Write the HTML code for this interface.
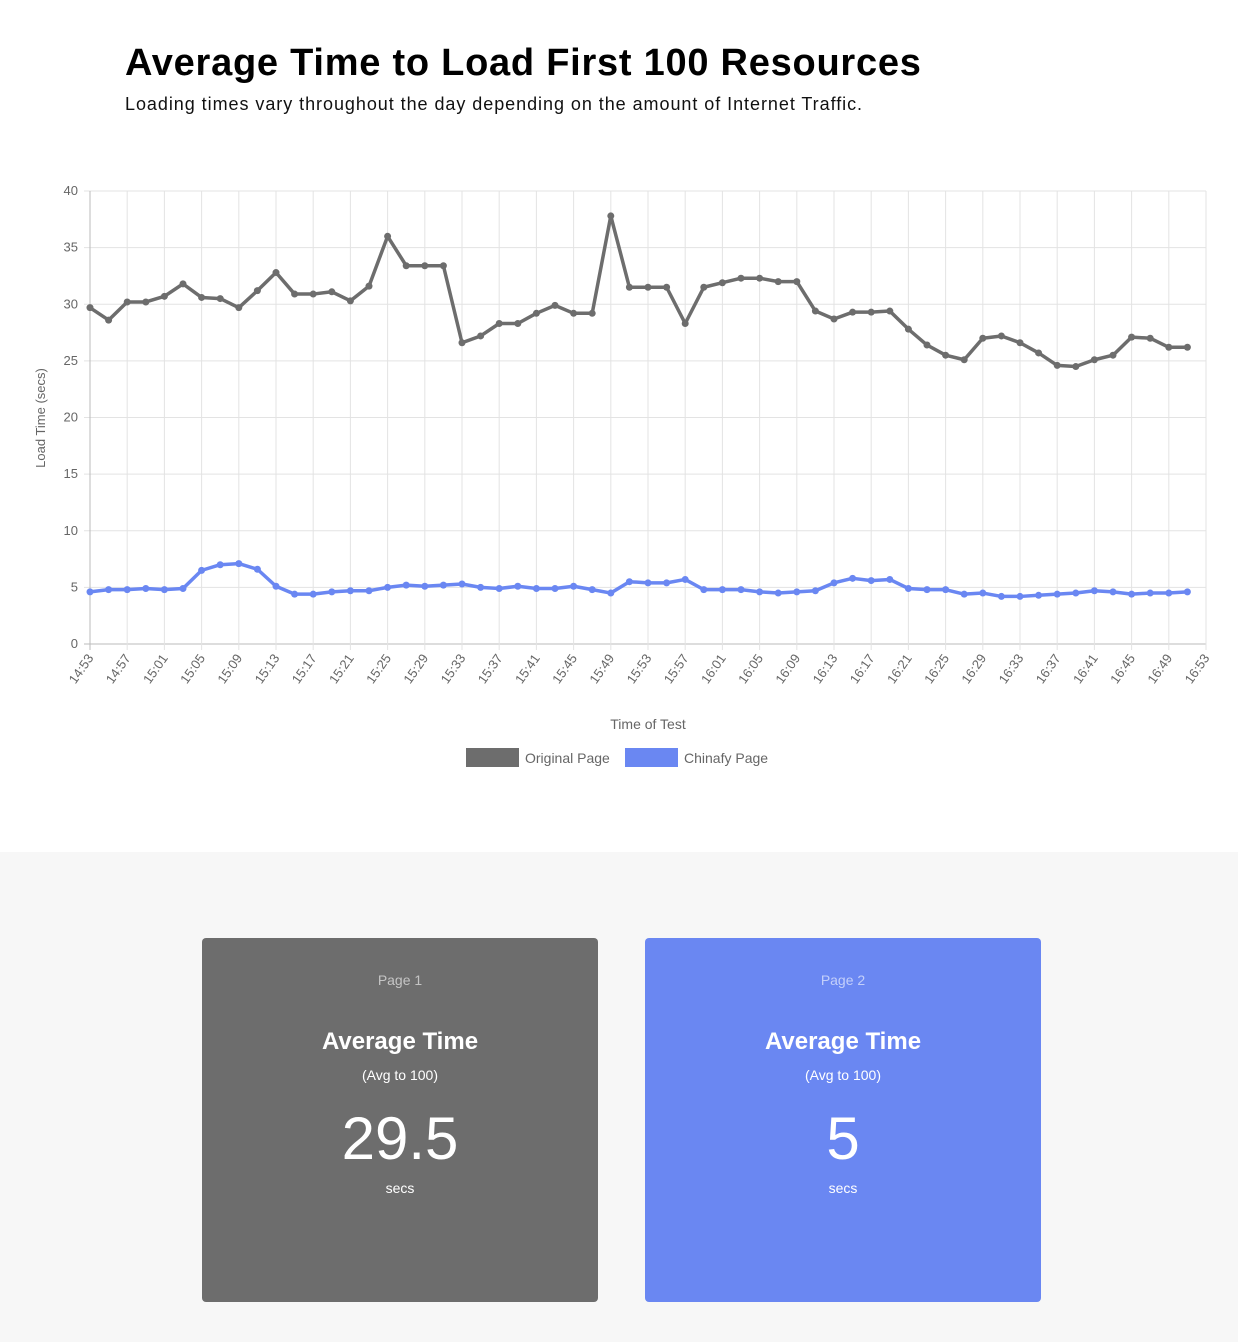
<!DOCTYPE html>
<html><head><meta charset="utf-8">
<style>
body{margin:0;width:1238px;height:1342px;background:#f7f7f7;font-family:"Liberation Sans",sans-serif;overflow:hidden}
#top{position:absolute;left:0;top:0;width:1238px;height:852px;background:#fff}
h1{position:absolute;left:125px;top:42px;margin:0;font-size:38px;font-weight:bold;color:#000;letter-spacing:0.75px}
#sub{position:absolute;left:125px;top:94px;font-size:18px;color:#111;letter-spacing:0.95px}
svg{position:absolute;left:0;top:0}
.card{position:absolute;top:938px;width:396px;height:364px;border-radius:4px;color:#fff;text-align:center}
.card .p{position:absolute;top:34px;width:100%;font-size:14px;color:rgba(255,255,255,0.6)}
.card .t{position:absolute;top:90px;width:100%;font-size:24px;font-weight:bold}
.card .a{position:absolute;top:129px;width:100%;font-size:14px}
.card .v{position:absolute;top:166px;width:100%;font-size:60px}
.card .s{position:absolute;top:242px;width:100%;font-size:14px}
</style></head><body>
<div id="top">
<h1>Average Time to Load First 100 Resources</h1>
<div id="sub">Loading times vary throughout the day depending on the amount of Internet Traffic.</div>
<svg id="chart" width="1238" height="852"></svg>
</div>
<div class="card" style="left:202px;background:#6d6d6d">
<div class="p">Page 1</div><div class="t">Average Time</div><div class="a">(Avg to 100)</div><div class="v">29.5</div><div class="s">secs</div></div>
<div class="card" style="left:645px;background:#6a87f2">
<div class="p">Page 2</div><div class="t">Average Time</div><div class="a">(Avg to 100)</div><div class="v">5</div><div class="s">secs</div></div>
<script>
const originalValues=[29.7,28.6,30.2,30.2,30.7,31.8,30.6,30.5,29.7,31.2,32.8,30.9,30.9,31.1,30.3,31.6,36,33.4,33.4,33.4,26.6,27.2,28.3,28.3,29.2,29.9,29.2,29.2,37.8,31.5,31.5,31.5,28.3,31.5,31.9,32.3,32.3,32.0,32.0,29.4,28.7,29.3,29.3,29.4,27.8,26.4,25.5,25.1,27.0,27.2,26.6,25.7,24.6,24.5,25.1,25.5,27.1,27.0,26.2,26.2];
const chinafyValues=[4.6,4.8,4.8,4.9,4.8,4.9,6.5,7.0,7.1,6.6,5.1,4.4,4.4,4.6,4.7,4.7,5.0,5.2,5.1,5.2,5.3,5.0,4.9,5.1,4.9,4.9,5.1,4.8,4.5,5.5,5.4,5.4,5.7,4.8,4.8,4.8,4.6,4.5,4.6,4.7,5.4,5.8,5.6,5.7,4.9,4.8,4.8,4.4,4.5,4.2,4.2,4.3,4.4,4.5,4.7,4.6,4.4,4.5,4.5,4.6];
const xTickLabels=["14:53","14:57","15:01","15:05","15:09","15:13","15:17","15:21","15:25","15:29","15:33","15:37","15:41","15:45","15:49","15:53","15:57","16:01","16:05","16:09","16:13","16:17","16:21","16:25","16:29","16:33","16:37","16:41","16:45","16:49","16:53"];
const yTicks=[0,5,10,15,20,25,30,35,40];
const NS="http://www.w3.org/2000/svg",svg=document.getElementById('chart');
const X0=90,X1=1206,Y0=644,Y1=191;
const xPos=i=>X0+i*(X1-X0)/((xTickLabels.length-1)*2);
const yPos=v=>Y0-(v/40)*(Y0-Y1);
function mk(t,a,p){const e=document.createElementNS(NS,t);for(const k in a)e.setAttribute(k,a[k]);(p||svg).appendChild(e);return e;}
yTicks.forEach(v=>{
 const g=mk('line',{x1:X0-6,x2:X1,y1:yPos(v),y2:yPos(v),stroke:v===0?'#bbb':'#e3e3e3'});
 
 
 const t=mk('text',{x:X0-12,y:yPos(v)+4,'text-anchor':'end','font-size':13,fill:'#666'});t.textContent=v;
 
 
});
xTickLabels.forEach((l,i)=>{
 const x=xPos(i*2);
 const g=mk('line',{x1:x,x2:x,y1:Y1,y2:Y0+6,stroke:i===0?'#bbb':'#e3e3e3'});
 
 
 const t=mk('text',{x:x+4,y:Y0+14,'text-anchor':'end','font-size':13,fill:'#666',transform:`rotate(-55 ${x+4} ${Y0+14})`});t.textContent=l;
 
 
});
function series(vals,color,name){
 const p=mk('polyline',{points:vals.map((v,i)=>xPos(i)+','+yPos(v)).join(' '),fill:'none',stroke:color,'stroke-width':3.5,'stroke-linejoin':'round'});
 
 
 vals.forEach((v,i)=>{const c=mk('circle',{cx:xPos(i),cy:yPos(v),r:3.5,fill:color});
 
 });
}
series(originalValues,'#6d6d6d','original-page');
series(chinafyValues,'#6a87f2','chinafy-page');
let t=mk('text',{x:648,y:729,'text-anchor':'middle','font-size':14,fill:'#666'});t.textContent='Time of Test';


t=mk('text',{x:45,y:418,'text-anchor':'middle','font-size':13,fill:'#666',transform:'rotate(-90 45 418)'});t.textContent='Load Time (secs)';


[['#6d6d6d','Original Page',466],['#6a87f2','Chinafy Page',625]].forEach(([c,l,x])=>{
 const r=mk('rect',{x:x,y:748,width:53,height:19,fill:c});
 
 
 const tt=mk('text',{x:x+59,y:763,'font-size':14,fill:'#666'});tt.textContent=l;
 
 
});
</script>
</body></html>
